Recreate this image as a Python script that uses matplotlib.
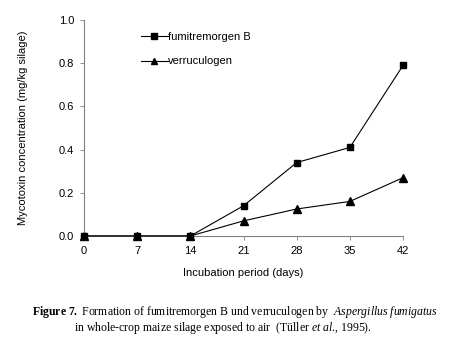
import matplotlib
matplotlib.use("Agg")
import matplotlib.pyplot as plt

days = [0, 7, 14, 21, 28, 35, 42]
fumitremorgen_b = [0.0, 0.0, 0.0, 0.14, 0.34, 0.41, 0.79]
verruculogen = [0.0, 0.0, 0.0, 0.07, 0.125, 0.16, 0.27]
y_ticks = [0.0, 0.2, 0.4, 0.6, 0.8, 1.0]

plt.rcParams["font.family"] = ["Liberation Sans", "DejaVu Sans"]
plt.rcParams["mathtext.fontset"] = "custom"
plt.rcParams["mathtext.rm"] = "Liberation Serif"
plt.rcParams["mathtext.it"] = "Liberation Serif:italic"
plt.rcParams["mathtext.bf"] = "Liberation Serif:bold"

fig = plt.figure(figsize=(4.5, 3.47), dpi=100)
ax = fig.add_axes([0.1867, 0.3199, 0.709, 0.6225])

ax.plot(days, verruculogen, color="black", lw=0.8, marker="^", ms=5.5,
        label="verruculogen", zorder=2)
ax.plot(days, fumitremorgen_b, color="black", lw=0.8, marker="s", ms=5,
        label="fumitremorgen B", zorder=3)

ax.set_xlim(0, 42)
ax.set_ylim(0, 1.0)
ax.set_xticks(days)
ax.set_yticks(y_ticks)
ax.set_yticklabels([f"{v:.1f}" for v in y_ticks])
ax.tick_params(labelsize=8, length=3, width=0.6, color="#808080", pad=4)
ax.set_xlabel("Incubation period (days)", fontsize=8, labelpad=9)
ax.set_ylabel("Mycotoxin concentration (mg/kg silage)", fontsize=8, labelpad=22)
for s in ["top", "right"]:
    ax.spines[s].set_visible(False)
for s in ["left", "bottom"]:
    ax.spines[s].set_color("#808080")
    ax.spines[s].set_linewidth(0.8)
for ln in ax.lines:
    ln.set_clip_on(False)

h, l = ax.get_legend_handles_labels()
leg = ax.legend(h[::-1], l[::-1], loc="upper left", bbox_to_anchor=(0.165, 0.965),
                frameon=False, fontsize=8, handlelength=2.4, handletextpad=0.05,
                labelspacing=1.3, borderaxespad=0, markerscale=0.85)

fig.text(0.521, 0.101,
         r"$\bf{Figure\ 7.}$ Formation of fumitremorgen B und verruculogen by  $\it{Aspergillus\ fumigatus}$",
         fontsize=8.5, family="Liberation Serif", ha="center", va="center")
fig.text(0.496, 0.056,
         r"in whole-crop maize silage exposed to air  (Tüller $\it{et\ al}$., 1995).",
         fontsize=8.5, family="Liberation Serif", ha="center", va="center")

fig.savefig("out.png", dpi=100, facecolor="white")
